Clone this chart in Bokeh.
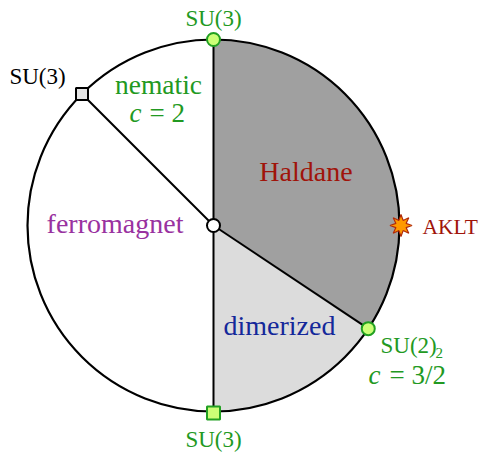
import numpy as np
from bokeh.plotting import figure
from bokeh.embed import file_html
from bokeh.resources import INLINE
from bokeh.core.properties import value

# ---- data (angles on the diagram, degrees, counter-clockwise from +x) ----
boundary_angles = [90.0, 135.0, 270.0, 326.31]        # phase boundaries
haldane_span = [-33.69, 90.0]                          # start, end
dimerized_span = [-90.0, -33.69]
phase_labels = ["nematic", "Haldane", "ferromagnet", "dimerized"]
point_labels = ["SU(3)", "SU(3)", "SU(3)", "SU(2)", "AKLT"]
su3_circle_angle = [90.0]
su3_square_green_angle = [270.0]
su3_square_grey_angle = [135.0]
uls_angle = [-33.69]
aklt_angle = [0.0]
cc_values = ["= 2", "= 3/2"]

R = 186.0
FONT = value("Liberation Serif")

def pol(angles, r=R):
    a = np.deg2rad(np.asarray(angles, dtype=float))
    return list(r * np.cos(a)), list(r * np.sin(a))

p = figure(width=479, height=452, x_range=(-213, 266), y_range=(-227, 225),
           output_backend="svg", toolbar_location=None,
           x_axis_type=None, y_axis_type=None, min_border=0,
           outline_line_color=None, background_fill_color="white")
p.grid.visible = False

# phase wedges
p.wedge(x=[0], y=[0], radius=R, start_angle=list(np.deg2rad([haldane_span[0]])),
        end_angle=list(np.deg2rad([haldane_span[1]])), fill_color="#a0a0a0", line_color=None)
p.wedge(x=[0], y=[0], radius=R, start_angle=list(np.deg2rad([dimerized_span[0]])),
        end_angle=list(np.deg2rad([dimerized_span[1]])), fill_color="#dcdcdc", line_color=None)

# radial boundaries
bx, by = pol(boundary_angles)
p.segment(x0=[0] * len(bx), y0=[0] * len(bx), x1=bx, y1=by, line_color="black", line_width=2)

# outer circle
p.circle(x=[0], y=[0], radius=R, fill_color=None, line_color="black", line_width=2.2)

# special points
cx, cy = pol(su3_circle_angle + uls_angle)
p.scatter(cx, cy, marker="circle", size=13, fill_color="#ccff77", line_color="#22a022", line_width=2)
sx, sy = pol(su3_square_green_angle, R + 1.5)
p.scatter(sx, sy, marker="square", size=13, fill_color="#ccff77", line_color="#22a022", line_width=2)
gx, gy = pol(su3_square_grey_angle)
p.scatter(gx, gy, marker="square", size=12, fill_color="#e6e6e6", line_color="black", line_width=2)
p.scatter([0], [0], marker="circle", size=13, fill_color="white", line_color="black", line_width=2)

# AKLT star (8 points) around the AKLT position
ax, ay = pol(aklt_angle, R + 1.5)
k = np.arange(16)
rr = np.where(k % 2 == 0, 11.0, 5.5)
th = k * np.pi / 8 + np.pi / 2
p.patch(list(ax[0] + rr * np.cos(th)), list(ay[0] + rr * np.sin(th)),
        fill_color="#ff9900", line_color="#b02a0a", line_width=1.2)

# phase labels
green = "#229922"
p.text(x=[-55], y=[141], text=[phase_labels[0]], text_font=FONT, text_font_size="27.5px",
       text_color=green, text_align="center", text_baseline="alphabetic")
p.text(x=[92.5], y=[54], text=[phase_labels[1]], text_font=FONT, text_font_size="28px",
       text_color="#a0140a", text_align="center", text_baseline="alphabetic")
p.text(x=[-98.5], y=[2], text=[phase_labels[2]], text_font=FONT, text_font_size="28px",
       text_color="#9932a0", text_align="center", text_baseline="alphabetic")
p.text(x=[66], y=[-100], text=[phase_labels[3]], text_font=FONT, text_font_size="28px",
       text_color="#14289a", text_align="center", text_baseline="alphabetic")

# central charges
p.text(x=[-84, 155], y=[113, -149], text=["c", "c"], text_font=FONT, text_font_size="27px",
       text_font_style="italic", text_color=green, text_align="left", text_baseline="alphabetic")
p.text(x=[-64, 176], y=[113, -149], text=cc_values, text_font=FONT, text_font_size="27px",
       text_color=green, text_align="left", text_baseline="alphabetic")

# point labels
p.text(x=[0], y=[207], text=[point_labels[0]], text_font=FONT, text_font_size="23px",
       text_color=green, text_align="center", text_baseline="alphabetic")
p.text(x=[-176], y=[149], text=[point_labels[1]], text_font=FONT, text_font_size="23px",
       text_color="black", text_align="center", text_baseline="alphabetic")
p.text(x=[0], y=[-214], text=[point_labels[2]], text_font=FONT, text_font_size="23px",
       text_color=green, text_align="center", text_baseline="alphabetic")
p.text(x=[167], y=[-120], text=[point_labels[3]], text_font=FONT, text_font_size="23px",
       text_color=green, text_align="left", text_baseline="alphabetic")
p.text(x=[222], y=[-127], text=["2"], text_font=FONT, text_font_size="15px",
       text_color=green, text_align="left", text_baseline="alphabetic")
p.text(x=[209], y=[-1], text=[point_labels[4]], text_font=FONT, text_font_size="21.5px",
       text_color="#a0140a", text_align="left", text_baseline="alphabetic")

open("out.html", "w").write(file_html(p, INLINE))
